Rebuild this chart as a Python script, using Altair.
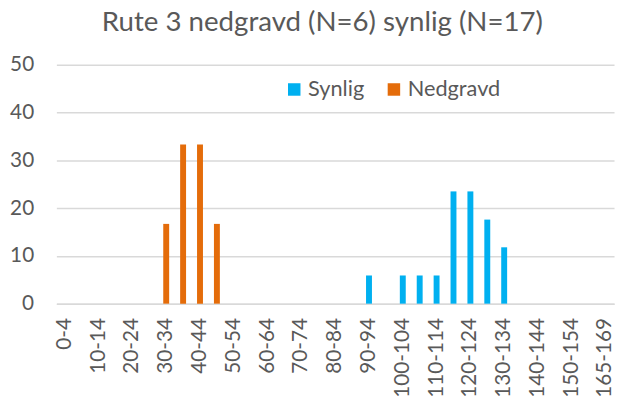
import altair as alt
import pandas as pd

categories = ["0-4", "5-9", "10-14", "15-19", "20-24", "25-29", "30-34", "35-39",
              "40-44", "45-49", "50-54", "55-59", "60-64", "65-69", "70-74", "75-79",
              "80-84", "85-89", "90-94", "95-99", "100-104", "105-109", "110-114",
              "115-119", "120-124", "125-129", "130-134", "135-139", "140-144",
              "145-149", "150-154", "155-159", "165-169"]

synlig = [0, 0, 0, 0, 0, 0, 0, 0, 0, 0, 0, 0, 0, 0, 0, 0, 0, 0,
          5.9, 0, 5.9, 5.9, 5.9, 23.5, 23.5, 17.6, 11.8, 0, 0, 0, 0, 0, 0]
nedgravd = [0, 0, 0, 0, 0, 0, 16.7, 33.3, 33.3, 16.7, 0, 0, 0, 0, 0, 0, 0, 0,
            0, 0, 0, 0, 0, 0, 0, 0, 0, 0, 0, 0, 0, 0, 0]

series_names = ["Synlig", "Nedgravd"]
series_colors = ["#00B0F0", "#E46C0A"]
tick_labels = categories[0::2]

rows = []
for name, vals in zip(series_names, [synlig, nedgravd]):
    for c, v in zip(categories, vals):
        if v > 0:
            rows.append({"kategori": c, "serie": name, "verdi": v})
df = pd.DataFrame(rows)

font = "Lato"
grey = "#595959"

chart = alt.Chart(df).mark_bar(size=6).encode(
    x=alt.X("kategori:N", sort=categories,
            scale=alt.Scale(domain=categories, paddingInner=0.2, paddingOuter=0.1),
            axis=alt.Axis(title=None, values=tick_labels, labelAngle=-90,
                          labelAlign="right", labelBaseline="middle",
                          labelFont=font, labelFontSize=21, labelColor=grey,
                          labelPadding=14, ticks=False, domain=True,
                          domainColor="#d9d9d9", domainWidth=1.5,
                          grid=False, labelOverlap=False)),
    y=alt.Y("verdi:Q", scale=alt.Scale(domain=[0, 50]),
            axis=alt.Axis(title=None, values=[0, 10, 20, 30, 40, 50],
                          labelFont=font, labelFontSize=21, labelColor=grey,
                          labelPadding=23, ticks=False, domain=False,
                          gridColor="#d9d9d9", gridWidth=1.5)),
    color=alt.Color("serie:N",
                    scale=alt.Scale(domain=series_names, range=series_colors),
                    legend=alt.Legend(title=None, orient="none", direction="horizontal",
                                      legendX=230, legendY=14,
                                      symbolType="square", symbolSize=160,
                                      symbolStrokeWidth=0,
                                      labelFont=font, labelFontSize=22,
                                      labelColor=grey, columnPadding=19,
                                      labelOffset=3)),
).properties(
    width=565, height=242,
    autosize=alt.AutoSizeParams(type="none"),
    padding={"left": 49, "top": 55, "right": 2, "bottom": 92},
    title=alt.TitleParams("Rute 3 nedgravd (N=6) synlig (N=17)", font=font,
                          fontSize=28, fontWeight="normal", color=grey,
                          anchor="middle", offset=17, dx=-13),
).configure_view(stroke=None)

chart.save("out.html", embed_options={"renderer": "svg", "actions": False})
